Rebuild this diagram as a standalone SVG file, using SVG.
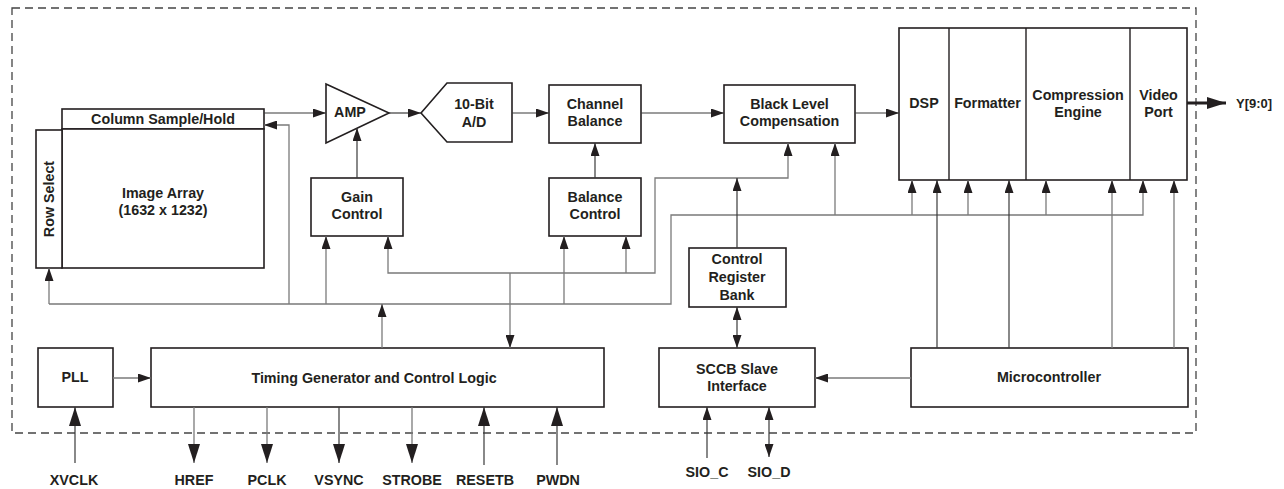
<svg xmlns="http://www.w3.org/2000/svg" width="1284" height="489" viewBox="0 0 1284 489">
<defs>
<style>
.box{fill:#fff;stroke:#231f20;stroke-width:1.6}
.t{font-family:"Liberation Sans",Arial,sans-serif;font-weight:bold;font-size:14.3px;fill:#231f20;text-anchor:middle}
.d{fill:none;stroke:#3a3a3a;stroke-width:1.2}
.g{fill:none;stroke:#7a7a7a;stroke-width:1.3}
.a{marker-end:url(#arr)}
.b{marker-start:url(#arr);marker-end:url(#arr)}
.L{marker-end:url(#arrL)}
</style>
<marker id="arr" viewBox="0 0 13 9" refX="13" refY="4.5" markerWidth="13" markerHeight="9" markerUnits="userSpaceOnUse" orient="auto-start-reverse">
<path d="M0,0 L13,4.5 L0,9 z" fill="#231f20"/>
</marker>
<marker id="arrL" viewBox="0 0 19 12" refX="19" refY="6" markerWidth="19" markerHeight="12" markerUnits="userSpaceOnUse" orient="auto-start-reverse">
<path d="M0,0 L19,6 L0,12 z" fill="#231f20"/>
</marker>
</defs>
<rect width="1284" height="489" fill="#fff"/>
<rect id="chip-boundary" x="12" y="8" width="1184" height="425" fill="none" stroke="#444" stroke-width="1.3" stroke-dasharray="8 5"/>

<g id="column-sample-hold"><rect class="box" x="62" y="109" width="202" height="20"/><text class="t" x="163" y="124">Column Sample/Hold</text></g>
<g id="image-array"><rect class="box" x="62" y="129" width="202" height="139"/><text class="t" x="163" y="198">Image Array</text><text class="t" x="163" y="215">(1632 x 1232)</text></g>
<g id="row-select"><rect class="box" x="36" y="130" width="26" height="138"/><text class="t" transform="translate(54,199) rotate(-90)">Row Select</text></g>
<g id="amp"><path class="box" d="M326,84 L389,113 L326,143 Z"/><text class="t" x="350" y="117">AMP</text></g>
<g id="adc"><path class="box" d="M421,113 L447,83 H512 V142 H447 Z"/><text class="t" x="474" y="109">10-Bit</text><text class="t" x="474" y="127">A/D</text></g>
<g id="channel-balance"><rect class="box" x="549" y="85" width="92" height="58"/><text class="t" x="595" y="109">Channel</text><text class="t" x="595" y="126">Balance</text></g>
<g id="black-level"><rect class="box" x="724" y="85" width="131" height="58"/><text class="t" x="789.5" y="109">Black Level</text><text class="t" x="789.5" y="126">Compensation</text></g>
<g id="gain-control"><rect class="box" x="311" y="178" width="92" height="58"/><text class="t" x="357" y="202">Gain</text><text class="t" x="357" y="219">Control</text></g>
<g id="balance-control"><rect class="box" x="549" y="178" width="92" height="58"/><text class="t" x="595" y="202">Balance</text><text class="t" x="595" y="219">Control</text></g>
<g id="control-register-bank"><rect class="box" x="689" y="248" width="97" height="59"/><text class="t" x="737" y="264">Control</text><text class="t" x="737" y="282">Register</text><text class="t" x="737" y="300">Bank</text></g>
<g id="dsp-block">
<rect class="box" x="899" y="28" width="288" height="152"/>
<line x1="949" y1="28" x2="949" y2="180" stroke="#231f20" stroke-width="1.4"/>
<line x1="1026" y1="28" x2="1026" y2="180" stroke="#231f20" stroke-width="1.4"/>
<line x1="1130" y1="28" x2="1130" y2="180" stroke="#231f20" stroke-width="1.4"/>
<text class="t" x="924" y="108">DSP</text>
<text class="t" x="987.5" y="108">Formatter</text>
<text class="t" x="1078" y="100">Compression</text><text class="t" x="1078" y="117">Engine</text>
<text class="t" x="1158.5" y="100">Video</text><text class="t" x="1158.5" y="117">Port</text>
</g>
<g id="pll"><rect class="box" x="38" y="348" width="75" height="59"/><text class="t" x="75" y="382">PLL</text></g>
<g id="timing-generator"><rect class="box" x="151" y="348" width="453" height="59"/><text class="t" x="374" y="383">Timing Generator and Control Logic</text></g>
<g id="sccb"><rect class="box" x="659" y="348" width="156" height="59"/><text class="t" x="737" y="374">SCCB Slave</text><text class="t" x="737" y="391">Interface</text></g>
<g id="microcontroller"><rect class="box" x="911" y="348" width="277" height="59"/><text class="t" x="1049" y="382">Microcontroller</text></g>

<g id="labels">
<text class="t" x="1236" y="108" style="text-anchor:start;font-size:13px">Y[9:0]</text>
<text class="t" x="74" y="485">XVCLK</text>
<text class="t" x="194" y="485">HREF</text>
<text class="t" x="267" y="485">PCLK</text>
<text class="t" x="339" y="485">VSYNC</text>
<text class="t" x="412" y="485">STROBE</text>
<text class="t" x="485" y="485">RESETB</text>
<text class="t" x="558" y="485">PWDN</text>
<text class="t" x="707" y="477">SIO_C</text>
<text class="t" x="769" y="477">SIO_D</text>
</g>

<g id="connectors">
<path class="d a" d="M264,113 H326"/>
<path class="d a" d="M389,113 H421"/>
<path class="d a" d="M512,113 H549"/>
<path class="d a" d="M641,113 H724"/>
<path class="d a" d="M855,113 H899"/>
<path d="M1187,103 H1226" fill="none" stroke="#231f20" stroke-width="3" marker-end="url(#arrL)"/>
<path class="d a" d="M357,178 V128"/>
<path class="d a" d="M595,178 V143"/>
<path class="g a" d="M49,304 H671 V215 H1143 V180"/>
<path class="g a" d="M49,304 V268"/>
<path class="g a" d="M289,304 V125 H264"/>
<path class="g a" d="M326,304 V236"/>
<path class="g a" d="M564,304 V236"/>
<path class="g a" d="M382,348 V304"/>
<path class="g a" d="M835,215 V143"/>
<path class="g a" d="M912,215 V180"/>
<path class="g a" d="M968,215 V180"/>
<path class="g a" d="M1046,215 V180"/>
<path class="g b" d="M388,236 V273 H655 V178 H788 V143"/>
<path class="g a" d="M626,273 V236"/>
<path class="g a" d="M510,273 V348"/>
<path class="d a" d="M737,248 V178"/>
<path class="d b" d="M737,307 V348"/>
<path class="g a" d="M911,378 H815"/>
<path class="d a" d="M937,348 V180"/>
<path class="d a" d="M1009,348 V180"/>
<path class="g a" d="M1112,348 V180"/>
<path class="g a" d="M1174,348 V180"/>
<path class="g a" d="M113,378 H151"/>
<path class="d L" d="M75,463 V407"/>
<path class="g L" d="M194,407 V463"/>
<path class="g L" d="M267,407 V463"/>
<path class="d L" d="M339,407 V463"/>
<path class="g L" d="M412,407 V463"/>
<path class="d L" d="M484,465 V407"/>
<path class="d L" d="M557,465 V407"/>
<path class="d a" d="M707,458 V407"/>
<path class="d b" d="M769,407 V457"/>
</g>
</svg>
